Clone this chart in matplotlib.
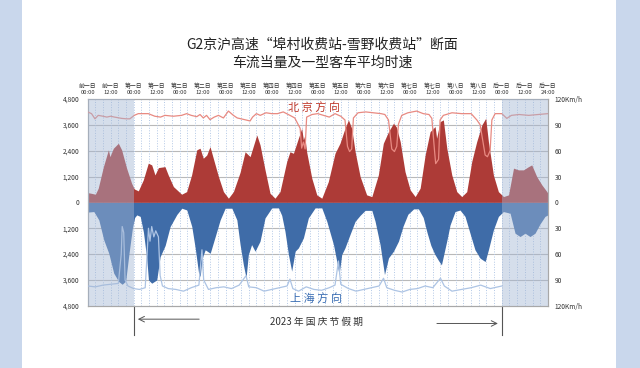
import numpy as np
import matplotlib.pyplot as plt
from matplotlib.patches import Rectangle

plt.rcParams['font.family'] = ['Noto Sans CJK SC', 'DejaVu Sans']

# tick labels along the top (every 12 h)
day_names = ['前一日', '第一日', '第二日', '第三日', '第四日', '第五日',
             '第六日', '第七日', '第八日', '后一日']
tick_hours = list(range(0, 241, 12))
tick_labels = []
for d in day_names:
    tick_labels += [d + '\n00:00', d + '\n12:00']
tick_labels.append('后一日\n24:00')

# 北京方向 traffic (pcu/h)
bj_hours = [0, 2, 4, 5.5, 8.2, 10.8, 11.6, 13.4, 16, 17.7, 20.3, 22.9, 24.3, 26.4, 29,
            31.6, 33.4, 35.1, 36.9, 40.3, 42, 44.7, 49, 51.6, 54.2, 56.9, 58.6, 60.3,
            62.1, 63.8, 65.5, 68.2, 70.8, 73.4, 76, 79.5, 82.1, 84.7, 88.2, 89.9, 92.5,
            95.1, 97.7, 100.3, 103.8, 105.5, 107.3, 109.9, 111.6, 112.5, 113.2, 114.2,
            116.9, 119.5, 122.1, 125.5, 129, 131.6, 134.2, 136, 137.7, 139.5, 142.1,
            145.5, 148.2, 151.6, 154.2, 156.9, 159.5, 161, 163, 165.5, 168.2, 170.8,
            173.4, 176, 178.6, 181.2, 182, 183.8, 185.5, 187.3, 189.9, 192.5, 195.1,
            197.7, 200.3, 202.9, 205.6, 207.6, 209, 211.6, 214.2, 216.9, 219.5, 222.1,
            224.7, 227.3, 229.9, 231.6, 234.2, 236.9, 239.5, 240]
bj_flow = [455, 420, 380, 660, 1660, 2440, 2125, 2515, 2745, 2440, 1590, 890, 625, 535,
           1045, 1820, 1740, 1275, 1615, 1660, 1275, 735, 380, 500, 1275, 2440, 2515,
           2050, 2200, 2590, 2050, 1200, 500, 195, 500, 1400, 2350, 2125, 3130, 2670,
           1510, 425, 195, 500, 1895, 2350, 2280, 2980, 3440, 2900, 3100, 2350, 1120,
           350, 195, 965, 2280, 2745, 3440, 3830, 3440, 2350, 1200, 350, 270, 1275, 2745,
           3285, 3675, 3500, 2820, 1430, 580, 270, 660, 2200, 3285, 3520, 2980, 3750,
           3830, 2515, 1275, 500, 270, 500, 1895, 2820, 3600, 3905, 2820, 1275, 500, 270,
           350, 1590, 1510, 1510, 1660, 1740, 1200, 810, 500, 425]

# 上海方向 traffic (pcu/h)
sh_hours = [0, 3.2, 5.8, 8.4, 11, 13.6, 16.2, 18, 19.8, 21.5, 23.3, 24.5, 25.6, 27.4,
            29.1, 30.8, 31.7, 33.4, 36, 37.8, 40.4, 43, 46.5, 49.1, 51.7, 54.3, 56.1,
            57.8, 58.7, 59.6, 61.3, 63.9, 66.5, 69.1, 71.7, 75.2, 77.8, 79.5, 81.2, 82.6,
            83.8, 85.5, 87.3, 89.9, 92.5, 96, 99.5, 101.2, 102.9, 104.7, 106.4, 108.2,
            109.9, 112.5, 115.1, 118.6, 122.1, 124.7, 128.2, 129.9, 131.1, 132.5, 134.2,
            136.8, 139.5, 142.1, 144.7, 148.2, 149.9, 152.5, 154.8, 156.9, 159.5, 162.1,
            164.5, 167, 170, 172.5, 175, 177, 179, 181, 183, 184.5, 186, 187.5, 189,
            191.6, 194.2, 196.8, 199.4, 202, 204.7, 207.3, 209, 211.6, 214.2, 216.8,
            220.3, 222.9, 225.5, 228.1, 230.7, 233.3, 235.9, 238.5, 240]
sh_flow = [450, 425, 810, 1740, 2360, 3285, 3675, 3800, 3650, 2400, 1200, 700, 580, 650,
           1390, 2600, 3600, 3750, 3600, 2515, 2000, 1120, 560, 270, 350, 1120, 2130,
           3250, 3440, 2600, 2200, 2360, 1590, 810, 270, 270, 810, 1960, 2890, 3500, 2420,
           1960, 2265, 1800, 720, 255, 255, 600, 1340, 2420, 3190, 2265, 2110, 1650, 720,
           255, 255, 875, 1960, 2730, 3350, 2420, 2110, 1495, 875, 600, 370, 370, 875,
           1960, 3350, 2575, 2265, 1800, 1100, 550, 300, 300, 700, 1400, 2000, 2400, 2700,
           2900, 2300, 1700, 1045, 425, 355, 650, 1430, 2200, 2590, 2745, 2200, 1275, 650,
           425, 500, 1430, 1585, 1430, 1585, 1430, 1000, 650, 580]

# average speed of type-1 passenger cars (km/h)
bj_speed_hours = [0, 2, 3.8, 5.5, 8, 10, 12, 14, 17.7, 20.3, 22, 24.3, 26.4, 29, 31.6, 35,
                  38, 40.3, 44.7, 49, 51.6, 54, 56.9, 58.6, 60.3, 62, 63.8, 66, 68.2, 70.8,
                  73.4, 76, 78, 80, 84.7, 86, 88, 90, 93, 96, 99, 102, 105.5, 108, 110.8,
                  111.6, 112.5, 113.4, 114.2, 117, 120, 123, 126, 129, 132, 134.2, 135.5,
                  136.6, 137.7, 138.6, 141, 145, 149, 153, 155, 156.9, 158.6, 160, 161.2,
                  162.1, 163.8, 167, 171.6, 175, 178, 179.5, 180.9, 181.5, 183, 183.8,
                  185.5, 190, 195, 200, 203, 204.7, 207.3, 208.5, 209.9, 210.8, 212.5, 216,
                  218.6, 221, 225, 230, 235, 240]
bj_speed = [105, 103, 97, 101, 100, 99, 100, 99, 97.5, 97, 97, 101, 103, 103, 103, 100, 99,
            101, 100, 101, 103, 101, 99.5, 102, 98, 101, 96, 99, 101, 98, 106, 101, 98, 97,
            94.5, 99, 103, 101, 104, 103, 103, 105, 101, 98, 86, 63, 70, 62, 99, 102, 103,
            101, 99, 103, 100, 95.6, 65, 59, 62, 98, 104, 105, 104, 103, 102, 95.6, 62, 59,
            65, 91, 101, 104, 106, 103, 102, 97.5, 60, 45, 50, 95.6, 101, 104, 103, 103,
            95.6, 90, 55, 53, 60, 95.6, 103, 103, 97.5, 101, 102, 101, 102, 103]

sh_speed_hours = [0, 4, 8, 12, 16, 17.5, 18, 18.8, 19.5, 21, 24, 27, 30, 31, 31.7, 32.5,
                  33.4, 34.5, 35.5, 36.9, 37.8, 39, 42, 46, 50, 54, 58, 59.6, 60.5, 63, 67,
                  71, 75, 79, 82.6, 84, 88, 92, 96, 100, 104, 105.5, 107, 110, 114, 118,
                  122, 126, 129, 130.8, 132, 136, 140, 144, 148, 152, 154.3, 156, 160, 164,
                  168, 172, 176, 180, 184, 186, 190, 195, 200, 205, 210, 214, 216]
sh_speed = [97, 98, 96, 95, 94, 60, 28, 35, 90, 97, 100, 101, 99, 60, 30, 45, 28, 40, 33,
            40, 85, 97, 100, 101, 103, 99, 96, 55, 90, 101, 99, 98, 100, 96, 85, 98, 99,
            103, 101, 99, 97, 89, 100, 103, 98, 101, 102, 99, 96, 68, 95, 100, 103, 101, 99,
            97, 88, 99, 102, 104, 101, 100, 97, 99, 88, 97, 103, 101, 99, 96, 100, 98, 97]

left_ticks = [-4800, -3600, -2400, -1200, 0, 1200, 2400, 3600, 4800]
left_labels = ['4,800', '3,600', '2,400', '1,200', '0', '1,200', '2,400', '3,600', '4,800']
right_ticks = [-120, -90, -60, -30, 0, 30, 60, 90, 120]
right_labels = ['120Km/h', '90', '60', '30', '0', '30', '60', '90', '120Km/h']

fig = plt.figure(figsize=(6.4, 3.68), dpi=100, facecolor='#c9d7ec')
fig.patches.append(Rectangle((22 / 640, 0), 594 / 640, 1, transform=fig.transFigure,
                             facecolor='white', edgecolor='none', zorder=-10))

ax = fig.add_axes([0.137, 0.169, 0.719, 0.562])
ax.set_facecolor('none')
ax.set_xlim(0, 240)
ax.set_ylim(-4800, 4800)

# grid
for v in [-3600, -2400, -1200, 1200, 2400, 3600]:
    ax.axhline(v, color='#b9b9b9', lw=0.8, zorder=1)
for h in range(4, 240, 4):
    ax.axvline(h, color='#b3c8e6', ls=':', lw=0.7, zorder=1)

ax.fill_between(bj_hours, 0, bj_flow, color='#ad3b37', lw=0, zorder=2)
ax.fill_between(sh_hours, 0, -np.array(sh_flow), color='#3f6ca8', lw=0, zorder=2)

ax.set_yticks(left_ticks)
ax.set_yticklabels(left_labels)
ax.tick_params(axis='y', length=0, pad=6, labelsize=4.8, labelcolor='#333333')
ax.xaxis.tick_top()
ax.set_xticks(tick_hours)
ax.set_xticklabels(tick_labels, fontsize=4.2, linespacing=1.2, color='#333333')
ax.tick_params(axis='x', length=0, pad=3)
for s in ax.spines.values():
    s.set_color('#a8a8a8')
    s.set_linewidth(0.8)

ax2 = ax.twinx()
ax2.set_ylim(-120, 120)
ax2.plot(bj_speed_hours, bj_speed, color='#e88a82', lw=0.9, zorder=3)
ax2.plot(sh_speed_hours, -np.array(sh_speed), color='#adc4e4', lw=0.9, zorder=3)
ax2.set_yticks(right_ticks)
ax2.set_yticklabels(right_labels)
ax2.tick_params(axis='y', length=0, pad=5, labelsize=4.8, labelcolor='#333333')
for s in ax2.spines.values():
    s.set_color('#a8a8a8')
    s.set_linewidth(0.8)

# days outside the holiday
ax2.axvspan(0, 24, color='#a3b6d3', alpha=0.45, lw=0, zorder=5)
ax2.axvspan(216, 240, color='#a3b6d3', alpha=0.45, lw=0, zorder=5)

ax.text(118, 4390, '北 京 方 向', color='#c0392b', fontsize=8, ha='center', va='center', zorder=6)
ax.text(119, -4440, '上 海 方 向', color='#3a6db3', fontsize=8, ha='center', va='center', zorder=6)

# holiday bracket under the chart
for h in [24, 216]:
    ax.plot([h, h], [-4800, -6160], color='#555555', lw=0.8, clip_on=False)
ax.annotate('', xy=(24.7, -5420), xytext=(59.6, -5420), annotation_clip=False,
            arrowprops=dict(arrowstyle='->', color='#555555', lw=0.7))
ax.annotate('', xy=(215.4, -5620), xytext=(180.7, -5620), annotation_clip=False,
            arrowprops=dict(arrowstyle='->', color='#555555', lw=0.7))
ax.text(119.5, -5570, '2023 年 国 庆 节 假 期', fontsize=7, color='#333333',
        ha='center', va='center')

fig.text(0.503, 0.878, 'G2京沪高速“埠村收费站-雪野收费站”断面', fontsize=10,
         ha='center', va='center', color='#222222')
fig.text(0.503, 0.829, '车流当量及一型客车平均时速', fontsize=10,
         ha='center', va='center', color='#222222')

fig.savefig('out.png', dpi=100, facecolor=fig.get_facecolor())
